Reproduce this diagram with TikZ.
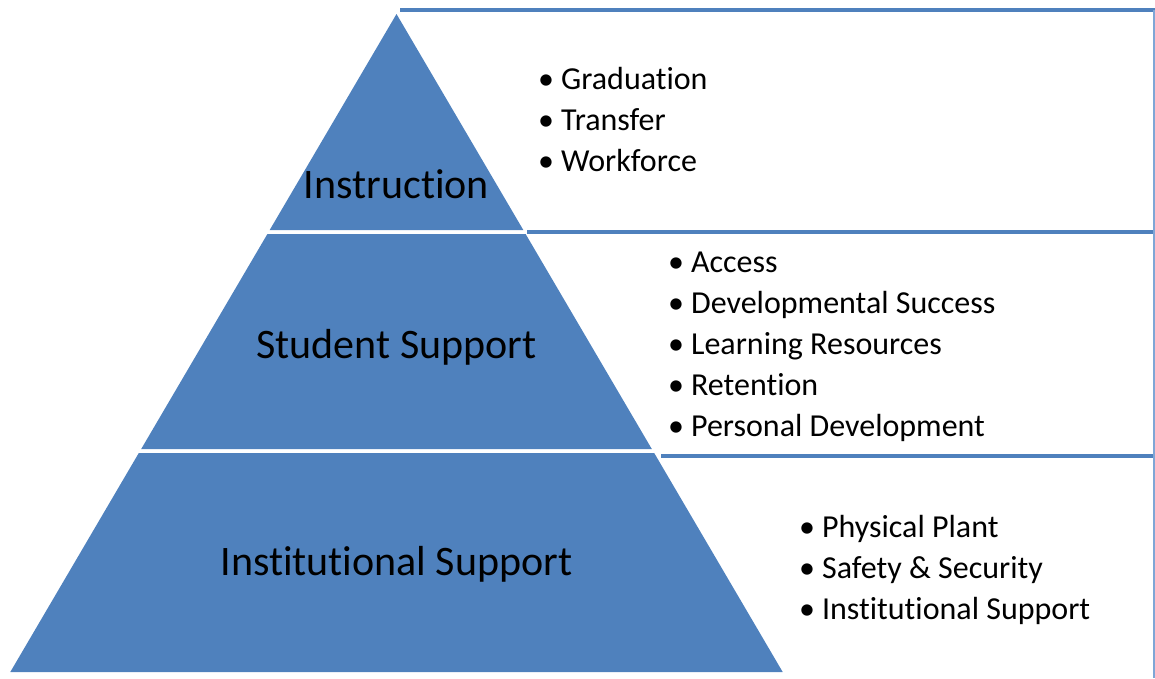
\documentclass[tikz,border=0pt]{standalone}
\usepackage{fontspec}
\setmainfont{Carlito}[Ligatures=NoCommon]
\definecolor{pyrblue}{HTML}{4F81BD}
\definecolor{edgeblue}{HTML}{7FA6D6}

\begin{document}
\begin{tikzpicture}[x=1pt,y=-1pt,
    level/.style={fill=pyrblue},
    levellabel/.style={font=\fontsize{42}{50}\selectfont,anchor=base,inner sep=0pt},
    itemtext/.style={font=\fontsize{32}{38}\selectfont,anchor=base west,inner sep=0pt},
    boxrule/.style={draw=pyrblue,line width=4pt}]
  \useasboundingbox (0,0) rectangle (1155,678);

  % pyramid levels
  \fill[level] (396.5,14) -- (523.3,230) -- (269.7,230) -- cycle;
  \fill[level] (267.4,234) -- (525.6,234) -- (651.8,449) -- (141.2,449) -- cycle;
  \fill[level] (138.8,453) -- (654.2,453) -- (782.7,672) -- (10.3,672) -- cycle;

  \node[levellabel] (instr) at (396.5,198) {Instruction};
  \node[levellabel] (stud) at (396.5,358) {Student Support};
  \node[levellabel] (inst) at (396.5,575) {Institutional Support};

  % boxes on the right
  \draw[boxrule] (400,10) -- (1155,10);
  \draw[boxrule] (527,232) -- (1155,232);
  \draw[boxrule] (661,456) -- (1155,456);
  \draw[edgeblue,line width=1.5pt] (1154,10) -- (1154,678);

  % bullet lists
  \foreach \txt [count=\i] in {Graduation,Transfer,Workforce}
    \node[itemtext] (top\i) at (538,{89+41*(\i-1)}) {\textbullet\hspace{7pt}\txt};
  \foreach \txt [count=\i] in {Access,Developmental Success,Learning Resources,Retention,Personal Development}
    \node[itemtext] (mid\i) at (668,{272+41*(\i-1)}) {\textbullet\hspace{7pt}\txt};
  \foreach \txt [count=\i] in {Physical Plant,Safety \& Security,Institutional Support}
    \node[itemtext] (low\i) at (799,{537+41*(\i-1)}) {\textbullet\hspace{7pt}\txt};
\end{tikzpicture}
\end{document}
